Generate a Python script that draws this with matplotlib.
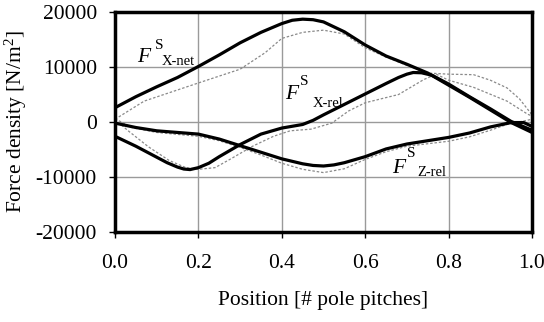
import matplotlib
matplotlib.use("Agg")
import matplotlib.pyplot as plt

plt.rcParams['font.family'] = ['Liberation Serif', 'DejaVu Serif']
plt.rcParams['mathtext.fontset'] = 'custom'
plt.rcParams['mathtext.rm'] = 'Liberation Serif'
plt.rcParams['mathtext.it'] = 'Liberation Serif:italic'

# Thick (solid) curves
xnet_x = [0.0, 0.05, 0.1, 0.15, 0.2, 0.25, 0.3, 0.35, 0.4, 0.425, 0.45, 0.475, 0.5, 0.55, 0.6, 0.65, 0.7, 0.75, 0.8, 0.85, 0.9, 0.95, 1.0]
xnet_y = [2600, 4600, 6400, 8100, 10100, 12200, 14400, 16300, 17900, 18500, 18700, 18600, 18200, 16400, 14000, 12000, 10500, 8900, 6700, 4500, 2200, -100, -1900]

xrel_x = [0.0, 0.05, 0.1, 0.125, 0.15, 0.165, 0.18, 0.2, 0.225, 0.25, 0.3, 0.35, 0.4, 0.45, 0.475, 0.5, 0.55, 0.6, 0.65, 0.68, 0.7, 0.715, 0.735, 0.76, 0.8, 0.85, 0.9, 0.95, 1.0]
xrel_y = [-2600, -4400, -6400, -7400, -8200, -8550, -8650, -8300, -7500, -6300, -4100, -2200, -1100, -450, 300, 1300, 3200, 5100, 7000, 8100, 8700, 9000, 8950, 8500, 6900, 4600, 2400, 100, -1500]

zrel_x = [0.0, 0.05, 0.1, 0.15, 0.2, 0.25, 0.3, 0.35, 0.4, 0.45, 0.475, 0.5, 0.525, 0.55, 0.6, 0.65, 0.7, 0.75, 0.8, 0.85, 0.9, 0.95, 0.98, 1.0]
zrel_y = [-200, -1000, -1600, -1900, -2200, -3100, -4300, -5500, -6700, -7600, -7900, -8000, -7800, -7400, -6300, -4900, -4000, -3400, -2800, -2000, -900, -100, -100, -800]

# Thin dotted curves
xnet_d_x = [0.0, 0.07, 0.2, 0.3, 0.36, 0.4, 0.45, 0.5, 0.55, 0.6, 0.65, 0.7, 0.75, 0.8, 0.86, 0.9, 0.94, 0.97, 1.0]
xnet_d_y = [500, 3800, 7100, 9600, 12600, 15200, 16300, 16700, 16000, 13500, 11800, 10300, 8900, 8700, 8600, 7600, 6200, 4200, 1300]

xrel_d_x = [0.0, 0.03, 0.08, 0.13, 0.17, 0.2, 0.24, 0.28, 0.33, 0.38, 0.42, 0.47, 0.52, 0.56, 0.6, 0.68, 0.74, 0.77, 0.8, 0.86, 0.94, 0.99, 1.0]
xrel_d_y = [500, -1500, -4500, -7000, -8300, -8600, -8300, -6600, -4400, -2600, -1600, -1300, -200, 2000, 3500, 5000, 7700, 8700, 7600, 6300, 3800, 1400, 1100]

zrel_d_x = [0.0, 0.04, 0.1, 0.2, 0.25, 0.3, 0.35, 0.4, 0.45, 0.5, 0.55, 0.6, 0.65, 0.7, 0.8, 0.85, 0.9, 0.94, 1.0]
zrel_d_y = [600, -1000, -1900, -2600, -3400, -4600, -6000, -7500, -8600, -9200, -8500, -6800, -5400, -4400, -3500, -2700, -1500, -450, 500]

x_ticks = [0.0, 0.2, 0.4, 0.6, 0.8, 1.0]
x_ticklabels = ["0.0", "0.2", "0.4", "0.6", "0.8", "1.0"]
y_ticks = [-20000, -10000, 0, 10000, 20000]
y_ticklabels = ["-20000", "-10000", "0", "10000", "20000"]

fig = plt.figure(figsize=(5.44, 3.22), dpi=100)
ax = fig.add_axes([0.2114, 0.2795, 0.7666, 0.6832])

dot_style = dict(color='#8a8a8a', lw=0.9, linestyle=(0, (2.0, 1.5)))
ax.plot(xnet_d_x, xnet_d_y, **dot_style)
ax.plot(xrel_d_x, xrel_d_y, **dot_style)
ax.plot(zrel_d_x, zrel_d_y, **dot_style)

thick = dict(color='black', lw=2.3, solid_capstyle='butt', solid_joinstyle='round')
ax.plot(xnet_x, xnet_y, **thick)
ax.plot(xrel_x, xrel_y, **thick)
ax.plot(zrel_x, zrel_y, **thick)

ax.set_xlim(0, 1)
ax.set_ylim(-20000, 20000)
ax.set_xticks(x_ticks)
ax.set_xticklabels(x_ticklabels)
ax.set_yticks(y_ticks)
ax.set_yticklabels(y_ticklabels)
ax.grid(True, color='#9a9a9a', lw=1.0)
ax.set_axisbelow(True)
for s in ax.spines.values():
    s.set_linewidth(2.5)
    s.set_color('black')
ax.tick_params(direction='out', length=4, width=1, labelsize=15.5)
ax.tick_params(axis='y', pad=9)
ax.tick_params(axis='x', pad=12)

ax.set_xlabel("Position [# pole pitches]", fontsize=15.5, labelpad=13)
ax.set_ylabel(r"Force density [N/m$^2$]", fontsize=15.5, labelpad=5)

def flabel(xf, yf, xs, ys, xb, yb, sub):
    ax.text(xf, yf, "F", fontsize=15.5, style='italic', va='baseline', ha='left')
    ax.text(xs, ys, "S", fontsize=11, va='baseline', ha='left')
    ax.text(xb, yb, sub, fontsize=10.5, va='baseline', ha='left')

flabel(0.053, 11000, 0.096, 13200, 0.113, 10450, "X-net")
flabel(0.408, 4100, 0.444, 6800, 0.473, 2800, "X-rel")
flabel(0.665, -9200, 0.701, -6450, 0.725, -9900, "Z-rel")

fig.savefig("out.png", dpi=100)
